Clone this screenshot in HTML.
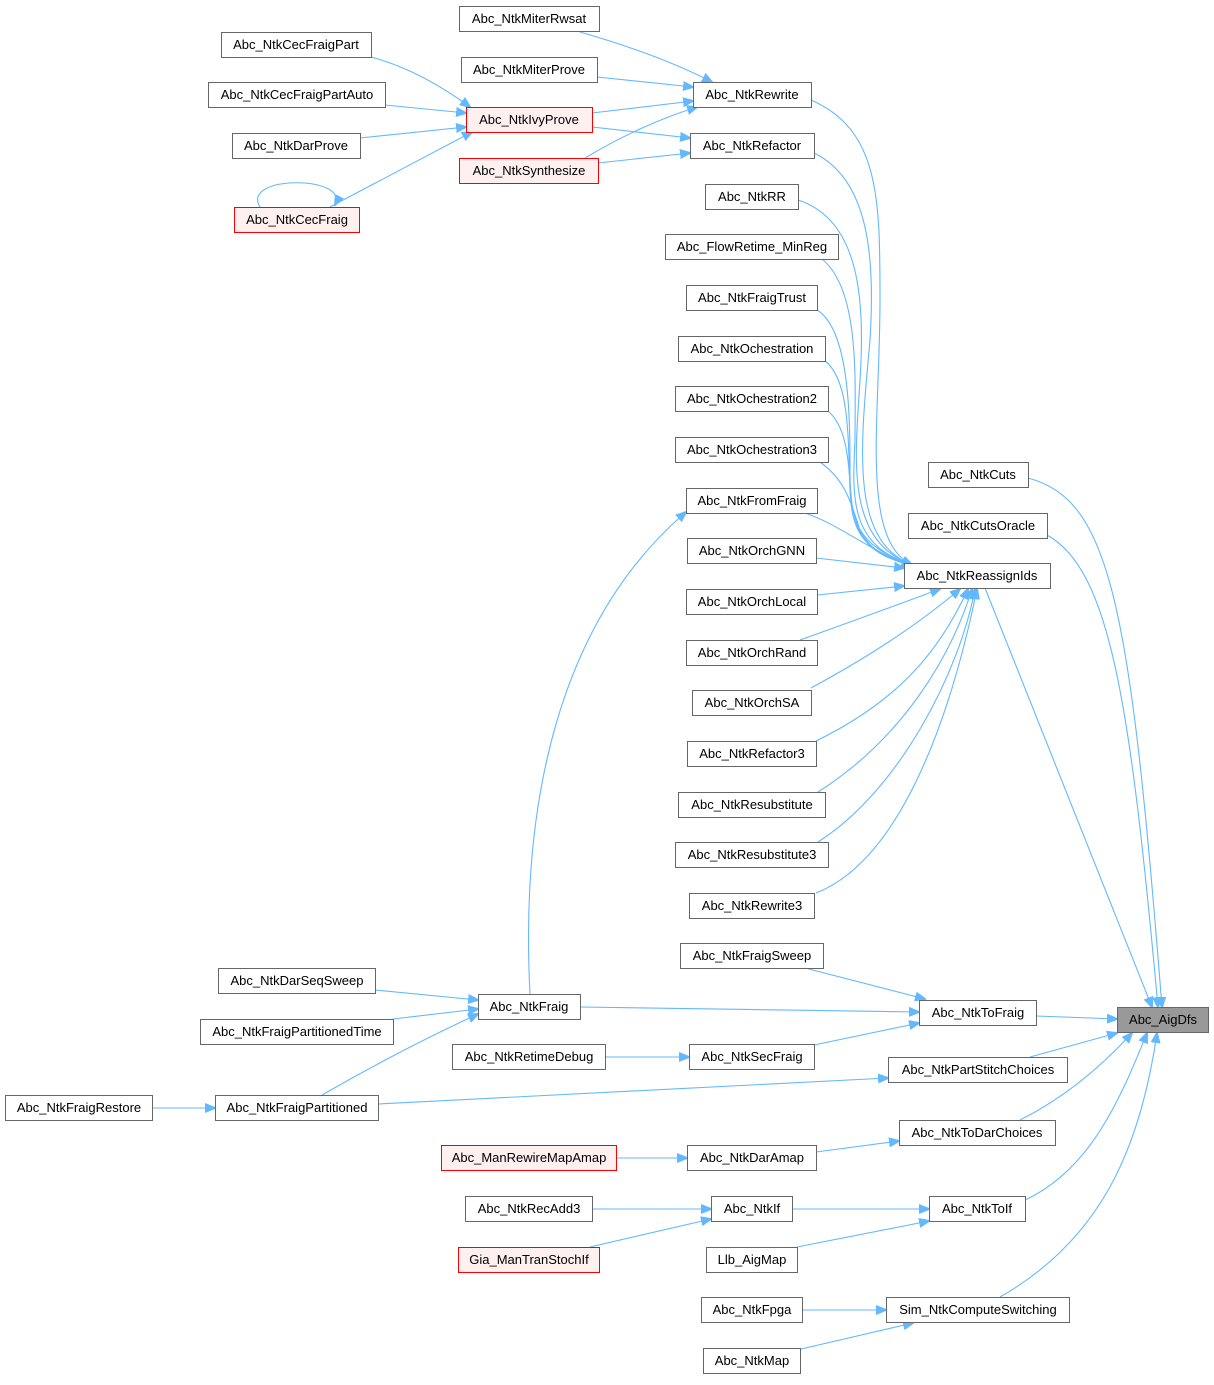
<!DOCTYPE html>
<html><head><meta charset="utf-8"><style>
body{margin:0;background:#fff}
svg text{font-family:"Liberation Sans",Arial,sans-serif;font-size:13px;fill:#000;text-anchor:middle}
.b{fill:#fff;stroke:#666;stroke-width:1}
.r{fill:#fff0f0;stroke:#f00;stroke-width:1}
.g{fill:#999;stroke:#666;stroke-width:1}
.e{fill:none;stroke:#63b8ff;stroke-width:1.1}
</style></head><body>
<svg width="1214" height="1380" viewBox="0 0 1214 1380" xmlns="http://www.w3.org/2000/svg">
<defs><marker id="a" viewBox="0 0 10 10" refX="9" refY="5" markerWidth="11" markerHeight="11" markerUnits="userSpaceOnUse" orient="auto"><path d="M0,1 L10,5 L0,9 z" fill="#63b8ff" stroke="#63b8ff"/></marker></defs>
<g class="e" marker-end="url(#a)">
<path d="M580,32 Q660,55 712,82"/>
<path d="M597,77 L693,87"/>
<path d="M371,57 Q420,70 470,107"/>
<path d="M385,105 L466,113"/>
<path d="M360,138 L466,127"/>
<path d="M330,207 Q400,170 472,132"/>
<path d="M260,207 C240,175 350,175 335,205"/>
<path d="M592,113 L693,101"/>
<path d="M592,127 L690,138"/>
<path d="M585,158 Q640,125 697,107"/>
<path d="M598,163 L690,153"/>
<path d="M811,100 C880,130 880,200 880,300 C880,420 860,540 912,565"/>
<path d="M814,153 C870,180 875,260 870,340 C860,450 850,540 912,565"/>
<path d="M798,200 C860,220 865,300 860,380 C855,460 845,540 912,565"/>
<path d="M822,259 C860,290 855,380 855,440 C852,500 850,545 912,565"/>
<path d="M817,310 C850,330 850,420 850,470 C850,520 855,545 912,565"/>
<path d="M825,361 C850,380 848,440 850,490 C852,530 860,550 912,565"/>
<path d="M828,411 C850,430 848,470 852,505 C858,540 870,555 912,565"/>
<path d="M820,462 C845,480 850,500 860,530 C870,550 885,558 912,566"/>
<path d="M805,513 C840,525 860,545 912,567"/>
<path d="M816,558 L904,568"/>
<path d="M817,595 L904,586"/>
<path d="M800,640 Q870,615 940,589"/>
<path d="M811,688 Q900,640 960,589"/>
<path d="M816,741 C900,700 940,650 968,589"/>
<path d="M818,792 C900,740 950,660 972,589"/>
<path d="M818,842 C900,790 960,670 975,589"/>
<path d="M816,893 C900,860 950,720 977,589"/>
<path d="M985,588 L1152,1007"/>
<path d="M1028,478 C1110,500 1130,600 1162,1007"/>
<path d="M1047,535 C1110,570 1130,700 1158,1007"/>
<path d="M1036,1016 L1117,1019"/>
<path d="M1030,1057 L1117,1033"/>
<path d="M1020,1120 Q1080,1090 1132,1033"/>
<path d="M1025,1200 C1090,1170 1120,1100 1147,1033"/>
<path d="M1000,1297 C1100,1240 1140,1150 1157,1033"/>
<path d="M805,968 L925,999"/>
<path d="M580,1007 L919,1012"/>
<path d="M814,1045 L919,1023"/>
<path d="M530,994 C520,800 560,620 686,512"/>
<path d="M375,990 L478,1000"/>
<path d="M393,1019 L478,1009"/>
<path d="M322,1095 Q400,1050 478,1014"/>
<path d="M152,1108 L215,1108"/>
<path d="M378,1104 L888,1078"/>
<path d="M605,1057 L689,1057"/>
<path d="M616,1158 L687,1158"/>
<path d="M816,1152 L899,1141"/>
<path d="M592,1209 L711,1209"/>
<path d="M590,1247 L711,1219"/>
<path d="M792,1209 L929,1209"/>
<path d="M797,1247 L929,1221"/>
<path d="M802,1310 L886,1310"/>
<path d="M797,1350 L913,1323"/>
</g>
<g>
<rect class="b" x="459.5" y="6.5" width="140" height="25"/><text x="529" y="23">Abc_NtkMiterRwsat</text>
<rect class="b" x="461.5" y="57.5" width="136" height="25"/><text x="529" y="74">Abc_NtkMiterProve</text>
<rect class="b" x="221.5" y="32.5" width="150" height="25"/><text x="296" y="49">Abc_NtkCecFraigPart</text>
<rect class="b" x="208.5" y="82.5" width="177" height="25"/><text x="297" y="99">Abc_NtkCecFraigPartAuto</text>
<rect class="r" x="466.5" y="107.5" width="126" height="25"/><text x="529" y="124">Abc_NtkIvyProve</text>
<rect class="b" x="232.5" y="133.5" width="128" height="25"/><text x="296" y="150">Abc_NtkDarProve</text>
<rect class="r" x="459.5" y="158.5" width="139" height="25"/><text x="529" y="175">Abc_NtkSynthesize</text>
<rect class="r" x="234.5" y="207.5" width="125" height="25"/><text x="297" y="224">Abc_NtkCecFraig</text>
<rect class="b" x="693.5" y="82.5" width="118" height="25"/><text x="752" y="99">Abc_NtkRewrite</text>
<rect class="b" x="690.5" y="133.5" width="124" height="25"/><text x="752" y="150">Abc_NtkRefactor</text>
<rect class="b" x="705.5" y="184.5" width="93" height="25"/><text x="752" y="201">Abc_NtkRR</text>
<rect class="b" x="665.5" y="234.5" width="173" height="25"/><text x="752" y="251">Abc_FlowRetime_MinReg</text>
<rect class="b" x="686.5" y="285.5" width="131" height="25"/><text x="752" y="302">Abc_NtkFraigTrust</text>
<rect class="b" x="678.5" y="336.5" width="147" height="25"/><text x="752" y="353">Abc_NtkOchestration</text>
<rect class="b" x="675.5" y="386.5" width="153" height="25"/><text x="752" y="403">Abc_NtkOchestration2</text>
<rect class="b" x="675.5" y="437.5" width="153" height="25"/><text x="752" y="454">Abc_NtkOchestration3</text>
<rect class="b" x="686.5" y="488.5" width="131" height="25"/><text x="752" y="505">Abc_NtkFromFraig</text>
<rect class="b" x="687.5" y="538.5" width="129" height="25"/><text x="752" y="555">Abc_NtkOrchGNN</text>
<rect class="b" x="686.5" y="589.5" width="131" height="25"/><text x="752" y="606">Abc_NtkOrchLocal</text>
<rect class="b" x="686.5" y="640.5" width="131" height="25"/><text x="752" y="657">Abc_NtkOrchRand</text>
<rect class="b" x="692.5" y="690.5" width="119" height="25"/><text x="752" y="707">Abc_NtkOrchSA</text>
<rect class="b" x="687.5" y="741.5" width="129" height="25"/><text x="752" y="758">Abc_NtkRefactor3</text>
<rect class="b" x="678.5" y="792.5" width="147" height="25"/><text x="752" y="809">Abc_NtkResubstitute</text>
<rect class="b" x="675.5" y="842.5" width="153" height="25"/><text x="752" y="859">Abc_NtkResubstitute3</text>
<rect class="b" x="689.5" y="893.5" width="125" height="25"/><text x="752" y="910">Abc_NtkRewrite3</text>
<rect class="b" x="680.5" y="943.5" width="143" height="25"/><text x="752" y="960">Abc_NtkFraigSweep</text>
<rect class="b" x="928.5" y="462.5" width="100" height="25"/><text x="978" y="479">Abc_NtkCuts</text>
<rect class="b" x="908.5" y="513.5" width="139" height="25"/><text x="978" y="530">Abc_NtkCutsOracle</text>
<rect class="b" x="904.5" y="563.5" width="146" height="25"/><text x="977" y="580">Abc_NtkReassignIds</text>
<rect class="b" x="919.5" y="1000.5" width="117" height="25"/><text x="978" y="1017">Abc_NtkToFraig</text>
<rect class="g" x="1117.5" y="1007.5" width="91" height="25"/><text x="1163" y="1024">Abc_AigDfs</text>
<rect class="b" x="888.5" y="1057.5" width="179" height="25"/><text x="978" y="1074">Abc_NtkPartStitchChoices</text>
<rect class="b" x="899.5" y="1120.5" width="156" height="25"/><text x="977" y="1137">Abc_NtkToDarChoices</text>
<rect class="b" x="929.5" y="1196.5" width="96" height="25"/><text x="977" y="1213">Abc_NtkToIf</text>
<rect class="b" x="886.5" y="1297.5" width="183" height="25"/><text x="978" y="1314">Sim_NtkComputeSwitching</text>
<rect class="b" x="218.5" y="968.5" width="157" height="25"/><text x="297" y="985">Abc_NtkDarSeqSweep</text>
<rect class="b" x="478.5" y="994.5" width="102" height="25"/><text x="529" y="1011">Abc_NtkFraig</text>
<rect class="b" x="200.5" y="1019.5" width="193" height="25"/><text x="297" y="1036">Abc_NtkFraigPartitionedTime</text>
<rect class="b" x="452.5" y="1044.5" width="153" height="25"/><text x="529" y="1061">Abc_NtkRetimeDebug</text>
<rect class="b" x="689.5" y="1044.5" width="125" height="25"/><text x="752" y="1061">Abc_NtkSecFraig</text>
<rect class="b" x="5.5" y="1095.5" width="147" height="25"/><text x="79" y="1112">Abc_NtkFraigRestore</text>
<rect class="b" x="215.5" y="1095.5" width="163" height="25"/><text x="297" y="1112">Abc_NtkFraigPartitioned</text>
<rect class="r" x="441.5" y="1145.5" width="175" height="25"/><text x="529" y="1162">Abc_ManRewireMapAmap</text>
<rect class="b" x="687.5" y="1145.5" width="129" height="25"/><text x="752" y="1162">Abc_NtkDarAmap</text>
<rect class="b" x="465.5" y="1196.5" width="127" height="25"/><text x="529" y="1213">Abc_NtkRecAdd3</text>
<rect class="b" x="711.5" y="1196.5" width="81" height="25"/><text x="752" y="1213">Abc_NtkIf</text>
<rect class="r" x="458.5" y="1247.5" width="141" height="25"/><text x="529" y="1264">Gia_ManTranStochIf</text>
<rect class="b" x="706.5" y="1247.5" width="91" height="25"/><text x="752" y="1264">Llb_AigMap</text>
<rect class="b" x="701.5" y="1297.5" width="101" height="25"/><text x="752" y="1314">Abc_NtkFpga</text>
<rect class="b" x="703.5" y="1348.5" width="97" height="25"/><text x="752" y="1365">Abc_NtkMap</text>
</g>
</svg>
</body></html>
